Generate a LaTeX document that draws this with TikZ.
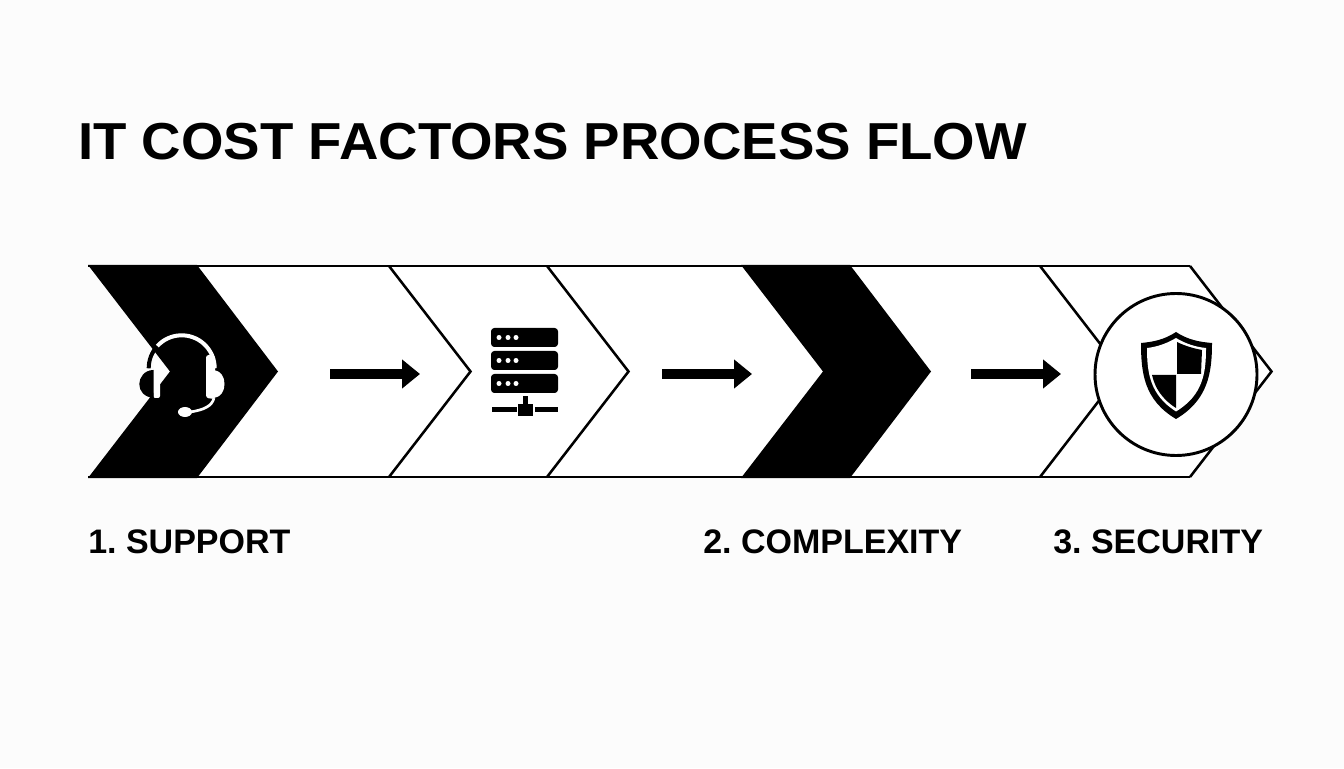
\documentclass[tikz,border=0pt]{standalone}
\usepackage{fontspec}
\setmainfont{Liberation Sans}
\usetikzlibrary{arrows.meta}
\tikzset{
    chevline/.style={draw=black, line width=1.9pt, line join=miter},
    flowarrow/.style={-{Triangle[length=13.5pt,width=21pt]}, line width=7.5pt, black},
    steplabel/.style={anchor=base west, inner sep=0pt, font=\fontsize{25.5}{25.5}\selectfont\bfseries\frenchspacing}
}
\begin{document}
\begin{tikzpicture}[x=0.75pt,y=0.75pt]
        \useasboundingbox (0,0) rectangle (1344,768);
        \fill[white!99!black] (0,0) rectangle (1344,768);

        % Title
        \node[anchor=base west, inner sep=0pt, font=\fontsize{39}{39}\selectfont\bfseries\addfontfeature{FakeStretch=1.05}] (title) at (78, 608) {IT COST FACTORS PROCESS FLOW};

        % Band and chevrons
        \fill[white] (88,502) -- (1190,502) -- (1271,396.5) -- (1190,291) -- (88,291) -- (170,396.5) -- cycle;
        \draw[chevline] (88,502) -- (1190,502);
        \draw[chevline] (88,291) -- (1190,291);
        \foreach \x in {389,547,1040,1190} {
            \draw[chevline] (\x,502) -- (\x+81.5,396.5) -- (\x,291);
        }

        % Black chevrons
        \foreach \x in {88,741} {
            \fill[black] (\x,503) -- (\x+109,503) -- (\x+190,396.5) -- (\x+109,290) -- (\x,290) -- (\x+82,396.5) -- cycle;
        }

        % Arrows
        \foreach \a/\b in {330/420,662/752,971/1061} {
            \coordinate (from\a) at (\a,394);
            \coordinate (to\a) at (\b,394);
            \draw[flowarrow] (from\a) -- (to\a);
        }

        % Headset
        \draw[white, line width=3pt] (181.7,399.7) ++(138:33) arc (138:0:33);
        \draw[black, line width=3pt] (181.7,399.7) ++(138:33) arc (138:180:33);
        \fill[white, rounded corners=1.5pt] (153.3,413) -- (160,406) -- (160,370) -- (153.3,370) -- cycle;
        \fill[black] (153.5,398) .. controls (144,398) and (139.3,390) .. (139.3,384) .. controls (139.3,377) and (144,371) .. (153.5,370) -- cycle;
        \fill[white, rounded corners=2pt] (206,413) -- (206,370) -- (215,369) -- (215,413) -- cycle;
        \fill[white] (214,398) .. controls (221,397) and (224.5,391) .. (224.5,384) .. controls (224.5,377) and (221,371) .. (214,370) -- cycle;
        \draw[white, line width=2pt] (214,370) .. controls (212,362) and (204,358) .. (190,356);
        \fill[white] (185,356) ellipse (7 and 5);

        % Server
        \foreach \y in {430.5,407.5,384.5} {
            \fill[black, rounded corners=2.5pt] (491,\y-9.5) rectangle (558,\y+9.5);
            \foreach \x in {499,508,516} {
                \fill[white] (\x,\y) circle (2.5);
            }
        }
        \fill[black] (522.5,372) rectangle (527.5,362);
        \fill[black] (518,364) rectangle (533,352);
        \fill[black] (492,360.5) rectangle (516.5,355.5);
        \fill[black] (534.5,360.5) rectangle (558,355.5);

        % Circle and shield
        \node[circle, draw=black, line width=2.2pt, fill=white, minimum size=121.5pt, inner sep=0pt] (shieldring) at (1176,393.5) {};
        \fill[black] (1176,436) .. controls (1188,428) and (1200,426) .. (1212,425) .. controls (1212,395) and (1208,368) .. (1176,349) .. controls (1144,368) and (1141,395) .. (1141,425) .. controls (1152,426) and (1164,428) .. (1176,436) -- cycle;
        \fill[white] (1176,430) .. controls (1186,424) and (1196,421) .. (1206,420) .. controls (1206,395) and (1203,373) .. (1176,356.5) .. controls (1150,373) and (1147,395) .. (1147,420) .. controls (1156,421) and (1166,424) .. (1176,430) -- cycle;
        \fill[black] (1177,426) .. controls (1185,422) and (1194,419.5) .. (1202,418) -- (1201,394) -- (1177,394) -- cycle;
        \fill[black] (1152,393) -- (1176,393) -- (1176,360) .. controls (1162,369) and (1155,380) .. (1152,393) -- cycle;

        % Labels
        \node[steplabel] (support) at (88, 215) {1. SUPPORT};
        \node[steplabel] (complexity) at (703, 215) {2. COMPLEXITY};
        \node[steplabel] (security) at (1053, 215) {3. SECURITY};
    \end{tikzpicture}
\end{document}
